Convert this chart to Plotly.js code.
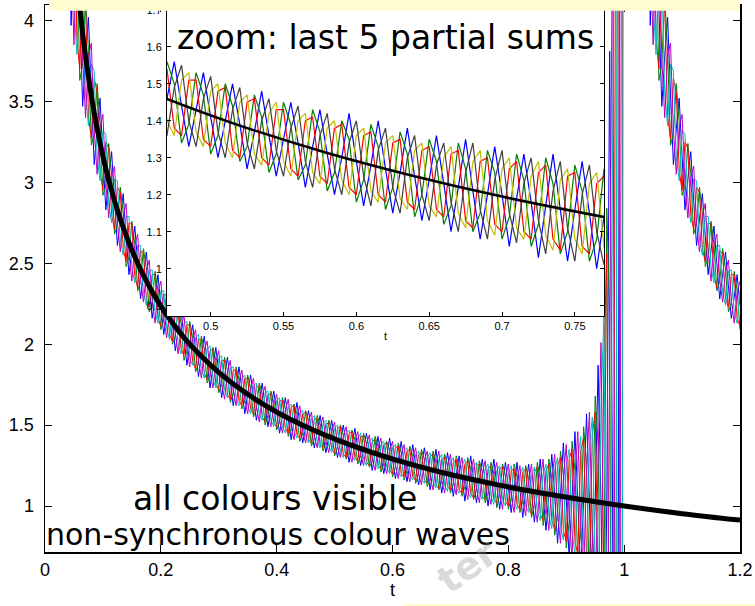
<!DOCTYPE html>
<html><head><meta charset="utf-8">
<script src="https://cdn.plot.ly/plotly-3.0.1.min.js"></script>
<style>html,body{margin:0;padding:0;background:#fff;}#chart{width:755px;height:606px;}</style>
</head><body><div id="chart"></div>
<script>
// sample positions t (shared by all partial sums)
const t = [
0.035,0.04,0.045,0.05,0.055,0.06,0.065,0.07,0.075,0.08,
0.085,0.09,0.095,0.1,0.105,0.11,0.115,0.12,0.125,0.13,
0.135,0.14,0.145,0.15,0.155,0.16,0.165,0.17,0.175,0.18,
0.185,0.19,0.195,0.2,
0.205,0.21,0.215,0.22,0.225,0.23,0.235,0.24,0.245,0.25,
0.255,0.26,0.265,0.27,0.275,0.28,0.285,0.29,0.295,0.3,
0.305,0.31,0.315,0.32,0.325,0.33,0.335,0.34,0.345,0.35,
0.355,0.36,0.365,0.37,0.375,0.38,0.385,0.39,0.395,0.4,
0.405,0.41,0.415,0.42,0.425,0.43,0.435,0.44,0.445,0.45,
0.455,0.46,0.465,0.47,0.475,0.48,0.485,0.49,0.495,0.5,
0.505,0.51,0.515,0.52,0.525,0.53,0.535,0.54,0.545,0.55,
0.555,0.56,0.565,0.57,0.575,0.58,0.585,0.59,0.595,0.6,
0.605,0.61,0.615,0.62,0.625,0.63,0.635,0.64,0.645,0.65,
0.655,0.66,0.665,0.67,0.675,0.68,0.685,0.69,0.695,0.7,
0.705,0.71,0.715,0.72,0.725,0.73,0.735,0.74,0.745,0.75,
0.755,0.76,0.765,0.77,0.775,0.78,0.785,0.79,0.795,0.8,
0.805,0.81,0.815,0.82,0.825,0.83,0.835,0.84,0.845,0.85,
0.855,0.86,0.865,0.87,0.875,0.88,0.885,0.89,0.895,0.9,
0.905,0.91,0.915,0.92,0.925,0.93,0.935,0.94,0.945,0.95,
0.955,0.96,0.965,0.97,0.975,0.98,0.985,0.99,0.995,1.0,
1.005,1.01,1.015,1.02,1.025,1.03,
1.035,1.04,1.045,1.05,1.055,1.06,1.065,1.07,1.075,1.08,
1.085,1.09,1.095,1.1,1.105,1.11,1.115,1.12,1.125,1.13,
1.135,1.14,1.145,1.15,1.155,1.16,1.165,1.17,1.175,1.18,
1.185,1.19,1.195,1.2];

// five partial sums
const sumA = [
6.25,5.00,3.97,4.47,4.84,4.08,3.47,3.78,4.02,3.54,
3.11,3.33,3.52,3.16,2.83,3.02,3.19,2.89,2.61,2.77,
2.93,2.67,2.43,2.58,2.73,2.50,2.28,2.43,2.57,2.36,
2.16,2.29,2.43,2.24,
2.06,2.18,2.31,2.13,1.96,2.09,2.21,2.04,1.87,2.00,
2.12,1.96,1.80,1.93,2.05,1.89,1.73,1.86,1.98,1.83,
1.67,1.80,1.92,1.77,1.62,1.74,1.86,1.72,1.57,1.69,
1.81,1.67,1.53,1.64,1.76,1.62,1.49,1.60,1.71,1.58,
1.45,1.56,1.67,1.54,1.41,1.53,1.64,1.51,1.39,1.49,
1.59,1.47,1.36,1.46,1.56,1.44,1.33,1.43,1.53,1.41,
1.30,1.40,1.50,1.39,1.27,1.37,1.48,1.36,1.25,1.35,
1.45,1.34,1.22,1.33,1.43,1.31,1.20,1.30,1.42,1.29,
1.17,1.28,1.40,1.27,1.15,1.26,1.38,1.25,1.13,1.24,
1.36,1.23,1.10,1.22,1.35,1.21,1.08,1.20,1.33,1.20,
1.06,1.19,1.31,1.18,1.03,1.17,1.31,1.16,1.02,1.16,
1.29,1.15,1.00,1.14,1.29,1.13,0.98,1.13,1.27,1.12,
0.96,1.11,1.27,1.10,0.93,1.10,1.26,1.09,0.90,1.09,
1.29,1.08,0.85,1.07,1.32,1.07,0.77,1.06,1.39,1.05,
0.68,1.05,1.46,1.04,0.57,1.04,1.57,1.03,0.39,1.03,
1.87,1.02,-0.38,1.02,3.81,1.01,-4.49,1.01,11.0,12.5,
11.2,9.8,8.4,7.3,6.6,6.0,
6.25,5.00,3.97,4.47,4.84,4.08,3.47,3.78,4.02,3.54,
3.11,3.33,3.52,3.16,2.83,3.02,3.19,2.89,2.61,2.77,
2.93,2.67,2.43,2.58,2.73,2.50,2.28,2.43,2.57,2.36,
2.16,2.29,2.43,2.24];

const sumB = [
5.72,4.25,4.40,5.07,4.51,3.63,3.73,4.15,3.81,3.23,
3.30,3.61,3.36,2.92,2.98,3.24,3.05,2.68,2.74,2.97,
2.81,2.48,2.54,2.76,2.62,2.33,2.39,2.59,2.47,2.20,
2.25,2.45,2.33,2.09,
2.15,2.32,2.22,2.00,2.05,2.22,2.13,1.90,1.96,2.14,
2.04,1.83,1.88,2.05,1.97,1.76,1.81,1.98,1.90,1.70,
1.75,1.92,1.84,1.64,1.70,1.86,1.78,1.60,1.65,1.81,
1.73,1.55,1.60,1.76,1.69,1.50,1.56,1.71,1.64,1.47,
1.52,1.67,1.60,1.43,1.48,1.63,1.57,1.40,1.45,1.59,
1.53,1.37,1.42,1.56,1.50,1.34,1.39,1.53,1.47,1.31,
1.36,1.50,1.44,1.29,1.33,1.47,1.41,1.26,1.31,1.45,
1.39,1.24,1.28,1.43,1.37,1.21,1.26,1.40,1.35,1.18,
1.24,1.39,1.33,1.16,1.22,1.37,1.31,1.14,1.20,1.35,
1.29,1.12,1.17,1.34,1.27,1.10,1.15,1.32,1.26,1.08,
1.14,1.31,1.24,1.06,1.12,1.30,1.23,1.04,1.10,1.28,
1.21,1.02,1.08,1.27,1.20,0.99,1.07,1.26,1.19,0.98,
1.05,1.26,1.18,0.96,1.03,1.25,1.17,0.93,1.01,1.27,
1.17,0.88,0.98,1.29,1.17,0.82,0.94,1.34,1.20,0.74,
0.90,1.40,1.22,0.64,0.84,1.49,1.26,0.50,0.76,1.68,
1.38,0.07,0.43,2.84,2.19,-2.63,-1.30,7.84,5.20,11.8,
12.4,10.5,9.1,7.9,6.9,6.3,
5.72,4.25,4.40,5.07,4.51,3.63,3.73,4.15,3.81,3.23,
3.30,3.61,3.36,2.92,2.98,3.24,3.05,2.68,2.74,2.97,
2.81,2.48,2.54,2.76,2.62,2.33,2.39,2.59,2.47,2.20,
2.25,2.45,2.33,2.09];

const sumC = [
4.77,4.37,5.19,4.98,3.89,3.70,4.21,4.10,3.41,3.27,
3.64,3.56,3.07,2.95,3.25,3.21,2.80,2.71,2.97,2.94,
2.59,2.51,2.75,2.74,2.42,2.35,2.58,2.56,2.28,2.23,
2.43,2.43,2.16,2.11,
2.31,2.30,2.06,2.02,2.20,2.20,1.97,1.93,2.12,2.12,
1.89,1.85,2.03,2.03,1.82,1.78,1.96,1.97,1.75,1.72,
1.90,1.90,1.69,1.66,1.84,1.84,1.65,1.62,1.79,1.79,
1.60,1.57,1.74,1.74,1.55,1.52,1.69,1.69,1.51,1.49,
1.65,1.65,1.48,1.45,1.61,1.62,1.44,1.42,1.57,1.58,
1.41,1.39,1.54,1.54,1.38,1.36,1.51,1.51,1.35,1.33,
1.48,1.49,1.32,1.30,1.45,1.46,1.30,1.28,1.43,1.43,
1.27,1.25,1.40,1.41,1.25,1.23,1.38,1.39,1.22,1.20,
1.36,1.37,1.20,1.18,1.34,1.35,1.18,1.16,1.32,1.33,
1.16,1.14,1.31,1.32,1.13,1.11,1.29,1.30,1.12,1.10,
1.27,1.29,1.10,1.08,1.26,1.28,1.08,1.05,1.25,1.26,
1.06,1.04,1.23,1.25,1.04,1.02,1.23,1.24,1.03,1.00,
1.22,1.23,1.01,0.98,1.21,1.23,0.99,0.95,1.21,1.24,
0.95,0.91,1.22,1.26,0.91,0.86,1.25,1.30,0.85,0.78,
1.29,1.35,0.78,0.70,1.34,1.42,0.69,0.58,1.44,1.58,
0.48,0.21,1.91,2.56,-0.78,-2.07,4.53,6.79,-5.40,13.2,
10.6,9.3,8.0,6.9,6.2,5.6,
4.77,4.37,5.19,4.98,3.89,3.70,4.21,4.10,3.41,3.27,
3.64,3.56,3.07,2.95,3.25,3.21,2.80,2.71,2.97,2.94,
2.59,2.51,2.75,2.74,2.42,2.35,2.58,2.56,2.28,2.23,
2.43,2.43,2.16,2.11];

const sumD = [
4.61,5.47,5.32,4.10,3.79,4.37,4.29,3.55,3.35,3.73,
3.69,3.16,3.01,3.32,3.30,2.87,2.75,3.02,3.01,2.65,
2.55,2.79,2.79,2.47,2.38,2.61,2.61,2.32,2.24,2.45,
2.46,2.20,2.13,2.33,
2.33,2.10,2.03,2.22,2.23,2.00,1.94,2.13,2.14,1.91,
1.87,2.04,2.06,1.85,1.79,1.97,1.99,1.78,1.73,1.91,
1.93,1.72,1.67,1.85,1.86,1.67,1.62,1.79,1.81,1.62,
1.57,1.74,1.76,1.57,1.53,1.70,1.71,1.53,1.49,1.65,
1.67,1.49,1.45,1.61,1.63,1.46,1.42,1.58,1.59,1.43,
1.39,1.54,1.56,1.40,1.36,1.51,1.53,1.37,1.33,1.48,
1.50,1.34,1.30,1.45,1.47,1.31,1.28,1.42,1.45,1.29,
1.25,1.40,1.42,1.26,1.23,1.38,1.40,1.24,1.20,1.36,
1.38,1.21,1.18,1.34,1.36,1.19,1.16,1.32,1.34,1.17,
1.14,1.30,1.33,1.15,1.11,1.29,1.32,1.13,1.09,1.27,
1.30,1.11,1.08,1.25,1.29,1.09,1.05,1.24,1.27,1.08,
1.04,1.23,1.26,1.06,1.01,1.22,1.25,1.04,1.00,1.20,
1.25,1.02,0.98,1.20,1.24,1.00,0.96,1.19,1.24,0.97,
0.91,1.20,1.26,0.94,0.86,1.22,1.30,0.88,0.79,1.25,
1.35,0.83,0.71,1.29,1.43,0.75,0.59,1.36,1.55,0.62,
0.33,1.62,2.17,-0.13,-1.28,3.29,5.52,-3.27,-7.20,12.0,
11.9,10.1,8.8,7.5,6.7,6.1,
4.61,5.47,5.32,4.10,3.79,4.37,4.29,3.55,3.35,3.73,
3.69,3.16,3.01,3.32,3.30,2.87,2.75,3.02,3.01,2.65,
2.55,2.79,2.79,2.47,2.38,2.61,2.61,2.32,2.24,2.45,
2.46,2.20,2.13,2.33];

const sumE = [
5.65,5.77,4.46,3.85,4.46,4.55,3.77,3.40,3.78,3.86,
3.32,3.05,3.34,3.42,3.00,2.78,3.03,3.10,2.75,2.57,
2.79,2.87,2.56,2.39,2.61,2.68,2.40,2.26,2.45,2.52,
2.27,2.13,2.32,2.39,
2.16,2.04,2.21,2.27,2.06,1.94,2.11,2.18,1.97,1.86,
2.03,2.09,1.90,1.79,1.96,2.02,1.83,1.73,1.89,1.96,
1.76,1.66,1.83,1.90,1.71,1.62,1.77,1.84,1.66,1.57,
1.72,1.79,1.61,1.52,1.68,1.74,1.57,1.49,1.63,1.69,
1.53,1.45,1.59,1.66,1.49,1.41,1.56,1.62,1.46,1.39,
1.52,1.58,1.43,1.36,1.49,1.55,1.40,1.33,1.46,1.52,
1.37,1.30,1.43,1.49,1.34,1.27,1.40,1.46,1.32,1.25,
1.38,1.44,1.29,1.22,1.36,1.42,1.27,1.20,1.34,1.40,
1.25,1.17,1.32,1.38,1.22,1.15,1.30,1.36,1.20,1.13,
1.28,1.34,1.18,1.10,1.26,1.34,1.16,1.08,1.24,1.32,
1.15,1.07,1.23,1.30,1.13,1.04,1.21,1.29,1.11,1.02,
1.20,1.28,1.10,1.01,1.19,1.27,1.08,0.98,1.17,1.26,
1.06,0.96,1.16,1.25,1.04,0.94,1.15,1.26,1.02,0.90,
1.15,1.29,1.00,0.85,1.15,1.32,0.96,0.77,1.17,1.38,
0.93,0.68,1.18,1.46,0.88,0.57,1.22,1.58,0.81,0.35,
1.31,2.01,0.54,-0.87,1.97,4.77,-0.86,-6.05,4.40,12.8,
12.7,10.9,9.4,8.1,7.0,6.4,
5.65,5.77,4.46,3.85,4.46,4.55,3.77,3.40,3.78,3.86,
3.32,3.05,3.34,3.42,3.00,2.78,3.03,3.10,2.75,2.57,
2.79,2.87,2.56,2.39,2.61,2.68,2.40,2.26,2.45,2.52,
2.27,2.13,2.32,2.39];

// the function being approximated (thick black curve)
const exactT = [0.055,0.06,0.065,0.07,0.08,0.09,0.1,0.11,0.12,0.135,0.15,0.17,0.19,0.21,0.24,0.27,0.3,0.34,0.38,0.42,0.47,0.52,0.58,0.64,0.7,0.77,0.84,0.92,1.0,1.1,1.2];
const exactY = [4.264,4.082,3.922,3.780,3.536,3.333,3.162,3.015,2.887,2.722,2.582,2.425,2.294,2.182,2.041,1.925,1.826,1.715,1.622,1.543,1.459,1.387,1.313,1.250,1.195,1.140,1.091,1.043,1.000,0.953,0.913];

// ticks
const mainXTicks = [0,0.2,0.4,0.6,0.8,1,1.2];
const mainXText = ['0','0.2','0.4','0.6','0.8','1','1.2'];
const mainYTicks = [1,1.5,2,2.5,3,3.5,4];
const mainYText = ['1','1.5','2','2.5','3','3.5','4'];
const zoomXTicks = [0.5,0.55,0.6,0.65,0.7,0.75];
const zoomXText = ['0.5','0.55','0.6','0.65','0.7','0.75'];
const zoomYTicks = [0.9,1,1.1,1.2,1.3,1.4,1.5,1.6,1.7];
const zoomYText = ['0.9','1','1.1','1.2','1.3','1.4','1.5','1.6','1.7'];

const sums = [sumA, sumB, sumC, sumD, sumE];
const mainColors = ['#0000ff','#008000','#ff0000','#00bfbf','#bf00bf'];
const zoomColors = ['#0000ff','#008000','#ff0000','#bfbf00','#404040'];

const traces = [];
sums.forEach((s, i) => traces.push({x: t, y: s, type: 'scatter', mode: 'lines', xaxis: 'x', yaxis: 'y',
  line: {color: mainColors[i], width: 1}, hoverinfo: 'skip'}));
traces.push({x: exactT, y: exactY, type: 'scatter', mode: 'lines', xaxis: 'x', yaxis: 'y',
  line: {color: '#000', width: 5, shape: 'spline'}, hoverinfo: 'skip'});
sums.forEach((s, i) => traces.push({x: t, y: s, type: 'scatter', mode: 'lines', xaxis: 'x2', yaxis: 'y2',
  line: {color: zoomColors[i], width: 1.2}, hoverinfo: 'skip'}));
traces.push({x: exactT, y: exactY, type: 'scatter', mode: 'lines', xaxis: 'x2', yaxis: 'y2',
  line: {color: '#000', width: 2.5, shape: 'spline'}, hoverinfo: 'skip'});

const axisCommon = {showgrid: false, zeroline: false, showline: true, linecolor: '#000',
  ticks: 'inside', tickcolor: '#000', mirror: 'ticks', tickmode: 'array'};

const layout = {
  width: 755, height: 606,
  margin: {l: 45, r: 15, t: 5, b: 54, pad: 0},
  paper_bgcolor: '#ffffff', plot_bgcolor: '#ffffff',
  showlegend: false,
  font: {family: 'Liberation Sans, Arial, sans-serif', color: '#000'},
  xaxis: Object.assign({}, axisCommon, {domain: [0, 1], range: [0, 1.2], anchor: 'y',
    tickvals: mainXTicks, ticktext: mainXText, ticklen: 7, linewidth: 1.5,
    tickfont: {size: 18}, ticklabelstandoff: 1,
    title: {text: 't', font: {size: 18}, standoff: 0}}),
  yaxis: Object.assign({}, axisCommon, {domain: [0, 1], range: [0.716, 4.096], anchor: 'x',
    tickvals: mainYTicks, ticktext: mainYText, ticklen: 7, linewidth: 1.5,
    tickfont: {size: 18}, ticklabelstandoff: 6}),
  xaxis2: Object.assign({}, axisCommon, {domain: [0.1755, 0.8043], range: [0.47, 0.77], anchor: 'y2',
    tickvals: zoomXTicks, ticktext: zoomXText, ticklen: 4, linewidth: 1,
    tickfont: {size: 11}, ticklabelstandoff: 0,
    title: {text: 't', font: {size: 11}, standoff: 1}}),
  yaxis2: Object.assign({}, axisCommon, {domain: [0.4314, 1], range: [0.872, 1.713], anchor: 'x2',
    tickvals: zoomYTicks, ticktext: zoomYText, ticklen: 4, linewidth: 1,
    tickfont: {size: 11}, ticklabelstandoff: 2}),
  shapes: [
    {type: 'rect', xref: 'paper', yref: 'paper', x0: 0.0058, x1: 1.0, y0: 0.9896, y1: 1.02,
     fillcolor: '#fffdd0', line: {width: 0}, layer: 'above'},
    {type: 'rect', xref: 'paper', yref: 'paper', x0: 0.515, x1: 1.03, y0: -0.12, y1: -0.0951,
     fillcolor: '#fffdd0', line: {width: 0}, layer: 'above'}
  ],
  annotations: [
    {xref: 'paper', yref: 'paper', x: 0.187, y: 0.9397, xanchor: 'left', yanchor: 'middle',
     text: 'zoom: last 5 partial sums', showarrow: false,
     font: {family: 'DejaVu Sans, sans-serif', size: 33, color: '#000'}},
    {xref: 'paper', yref: 'paper', x: 0.1237, y: 0.0969, xanchor: 'left', yanchor: 'middle',
     text: 'all colours visible', showarrow: false,
     font: {family: 'DejaVu Sans, sans-serif', size: 33, color: '#000'}},
    {xref: 'paper', yref: 'paper', x: -0.0014, y: 0.0329, xanchor: 'left', yanchor: 'middle',
     text: 'non-synchronous colour waves', showarrow: false,
     font: {family: 'DejaVu Sans, sans-serif', size: 30, color: '#000'}},
    {xref: 'paper', yref: 'paper', x: 0.6086, y: -0.026, xanchor: 'center', yanchor: 'middle',
     text: 'ter', showarrow: false, textangle: -35,
     font: {family: 'DejaVu Sans, sans-serif', size: 38, color: 'rgba(150,150,150,0.35)', weight: 'bold'}}
  ]
};

Plotly.newPlot('chart', traces, layout, {staticPlot: true, displayModeBar: false});
</script>
</body></html>
